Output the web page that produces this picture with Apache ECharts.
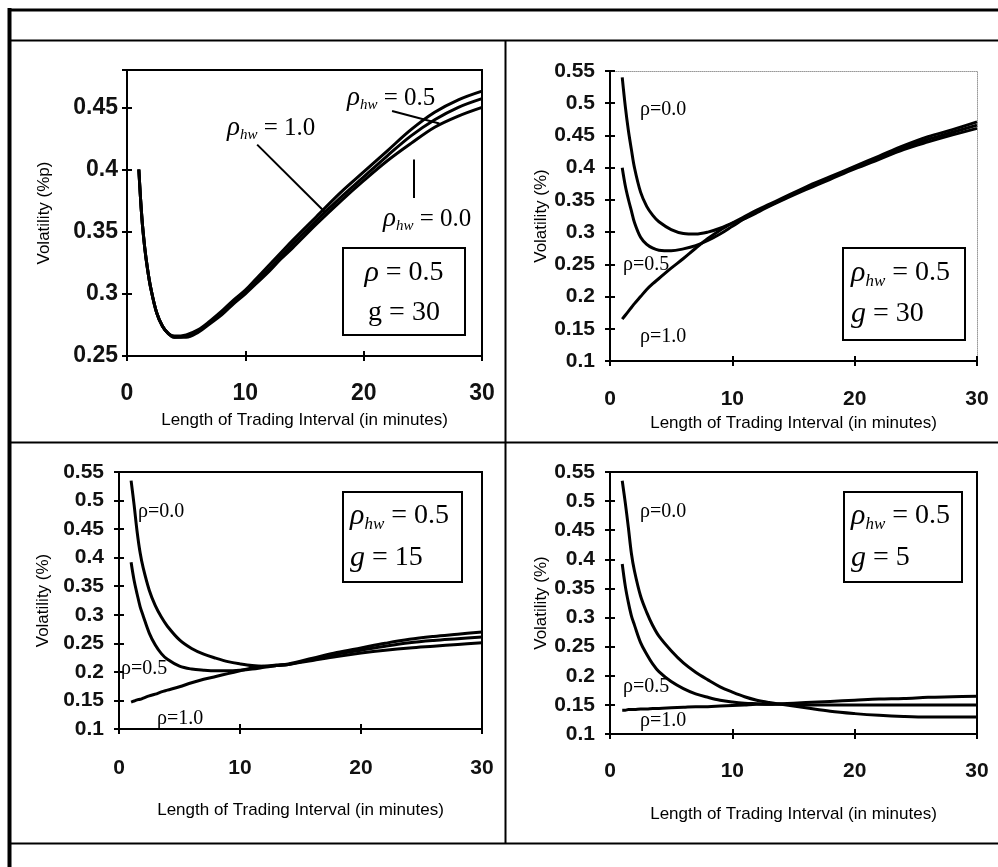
<!DOCTYPE html>
<html>
<head>
<meta charset="utf-8">
<script src="https://cdn.jsdelivr.net/npm/echarts@6/dist/echarts.min.js"></script>
<style>
html,body{margin:0;padding:0;background:#fff;}
#c{width:998px;height:867px;}
</style>
</head>
<body>
<div id="c"></div>
<script>
// ---------- data ----------
const X = [1,1.25,1.5,1.75,2,2.5,3,3.5,4,5,6,7,8,9,10,11,12,13,14,16,18,20,22,24,26,28,30];
const xTicks = [0,10,20,30];

// Panel 1: rho = 0.5, g = 30, varying rho_hw
const p1_rhw00 = [0.400,0.362,0.337,0.319,0.305,0.285,0.274,0.268,0.265,0.265,0.269,0.276,0.283,0.292,0.300,0.309,0.318,0.328,0.337,0.356,0.374,0.391,0.407,0.421,0.434,0.443,0.450];
const p1_rhw05 = [0.400,0.362,0.337,0.319,0.305,0.285,0.274,0.268,0.265,0.266,0.270,0.277,0.284,0.293,0.301,0.311,0.320,0.330,0.340,0.359,0.377,0.394,0.411,0.427,0.440,0.450,0.457];
const p1_rhw10 = [0.400,0.362,0.337,0.319,0.305,0.285,0.274,0.268,0.266,0.267,0.271,0.278,0.286,0.295,0.303,0.313,0.323,0.333,0.343,0.362,0.381,0.398,0.415,0.432,0.446,0.456,0.463];

// Panel 2: rho_hw = 0.5, g = 30
const p2_r00 = [0.540,0.495,0.458,0.428,0.400,0.362,0.340,0.326,0.316,0.304,0.298,0.297,0.300,0.306,0.314,0.321,0.330,0.340,0.349,0.366,0.382,0.398,0.413,0.428,0.440,0.451,0.461];
const p2_r05 = [0.400,0.372,0.351,0.333,0.315,0.292,0.281,0.275,0.272,0.271,0.274,0.279,0.287,0.297,0.309,0.321,0.332,0.341,0.350,0.368,0.384,0.400,0.415,0.431,0.444,0.455,0.466];
const p2_r10 = [0.165,0.171,0.177,0.183,0.189,0.200,0.211,0.220,0.228,0.244,0.259,0.275,0.290,0.303,0.314,0.324,0.334,0.343,0.352,0.370,0.386,0.402,0.418,0.434,0.448,0.459,0.471];

// Panel 3: rho_hw = 0.5, g = 15
const p3_r00 = [0.535,0.492,0.445,0.408,0.382,0.343,0.316,0.296,0.280,0.256,0.241,0.231,0.224,0.218,0.214,0.211,0.210,0.211,0.213,0.220,0.227,0.233,0.238,0.242,0.245,0.248,0.251];
const p3_r05 = [0.392,0.360,0.336,0.314,0.298,0.268,0.247,0.232,0.222,0.210,0.205,0.203,0.202,0.202,0.203,0.205,0.208,0.211,0.213,0.222,0.231,0.238,0.245,0.251,0.255,0.258,0.261];
const p3_r10 = [0.147,0.149,0.151,0.152,0.154,0.158,0.161,0.165,0.168,0.174,0.181,0.187,0.192,0.197,0.202,0.207,0.210,0.212,0.214,0.224,0.234,0.242,0.250,0.257,0.262,0.266,0.270];

// Panel 4: rho_hw = 0.5, g = 5
const p4_r00 = [0.535,0.497,0.455,0.410,0.380,0.337,0.309,0.286,0.268,0.243,0.222,0.206,0.193,0.181,0.172,0.164,0.158,0.154,0.151,0.145,0.139,0.135,0.132,0.130,0.129,0.129,0.129];
const p4_r05 = [0.392,0.354,0.326,0.303,0.287,0.257,0.237,0.220,0.207,0.190,0.178,0.169,0.163,0.158,0.155,0.153,0.152,0.151,0.151,0.150,0.150,0.150,0.150,0.150,0.150,0.150,0.150];
const p4_r10 = [0.141,0.141,0.142,0.142,0.142,0.143,0.143,0.144,0.144,0.145,0.146,0.147,0.147,0.148,0.149,0.150,0.151,0.151,0.152,0.154,0.156,0.158,0.160,0.161,0.163,0.164,0.165];

// pointer lines (panel 1), in data coordinates [x, y]
const p1_pointer10 = [[11.0,0.420],[16.7,0.366]];
const p1_pointer05 = [[22.4,0.447],[26.4,0.437]];
const p1_pointer00 = [[24.2,0.408],[24.2,0.377]];

const xName = 'Length of Trading Interval (in minutes)';

// ---------- layout ----------
const SANS = '"Liberation Sans", Arial, sans-serif';
const SERIF = '"Liberation Serif", "Times New Roman", serif';

const panels = [
  {grid:{left:127,top:70,width:355,height:286}, ymin:0.25, ymax:0.48, yname:'Volatility (%p)',
   tf:23, xLM:26, xNG:56, yLM:9, yNG:74, dotted:false,
   series:[p1_rhw00,p1_rhw05,p1_rhw10]},
  {grid:{left:610,top:71,width:367,height:290}, ymin:0.1, ymax:0.55, yname:'Volatility (%)',
   tf:21, xLM:28, xNG:54, yLM:15, yNG:54, dotted:true,
   series:[p2_r00,p2_r05,p2_r10]},
  {grid:{left:119,top:472,width:363,height:257}, ymin:0.1, ymax:0.55, yname:'Volatility (%)',
   tf:21, xLM:29, xNG:73, yLM:15, yNG:67, dotted:false,
   series:[p3_r00,p3_r05,p3_r10]},
  {grid:{left:610,top:472,width:367,height:262}, ymin:0.1, ymax:0.55, yname:'Volatility (%)',
   tf:21, xLM:27, xNG:72, yLM:15, yNG:54, dotted:false,
   series:[p4_r00,p4_r05,p4_r10]}
];

const grids = [], xAxes = [], yAxes = [], series = [];
const isMult = (v) => Math.abs(v/0.05 - Math.round(v/0.05)) < 1e-6;

panels.forEach((p, i) => {
  grids.push(Object.assign({
    show: !p.dotted, borderColor:'#000', borderWidth:2, backgroundColor:'transparent'
  }, p.grid));
  const xi = xAxes.length, yi = yAxes.length;
  xAxes.push({
    gridIndex:i, type:'value', min:0, max:30, interval:10, position:'bottom',
    axisLine:{show:true, onZero:false, lineStyle:{color:'#000', width:2}},
    axisTick:{show:true, length:5, lineStyle:{color:'#000', width:2}},
    axisLabel:{margin:p.xLM, fontSize:p.tf, fontWeight:'bold', color:'#111', fontFamily:SANS},
    splitLine:{show:false},
    name:xName, nameLocation:'middle', nameGap:p.xNG,
    nameTextStyle:{fontSize:17, color:'#000', fontFamily:SANS}
  });
  xAxes.push({
    gridIndex:i, type:'value', min:0, max:30, interval:10, position:'bottom',
    axisLine:{show:false, onZero:false}, axisTick:{show:true, inside:true, length:5, lineStyle:{color:'#000', width:2}},
    axisLabel:{show:false}, splitLine:{show:false}
  });
  yAxes.push({
    gridIndex:i, type:'value', min:p.ymin, max:p.ymax, interval:0.05, position:'left',
    axisLine:{show:true, onZero:false, lineStyle:{color:'#000', width:2}},
    axisTick:{show:true, length:5, lineStyle:{color:'#000', width:2}},
    axisLabel:{margin:p.yLM, fontSize:p.tf, fontWeight:'bold', color:'#111', fontFamily:SANS,
      formatter:(v)=> isMult(v) ? String(+v.toFixed(2)) : ''},
    splitLine:{show:false},
    name:p.yname, nameLocation:'middle', nameGap:p.yNG,
    nameTextStyle:{fontSize:17, color:'#000', fontFamily:SANS}
  });
  yAxes.push({
    gridIndex:i, type:'value', min:p.ymin, max:p.ymax, interval:0.05, position:'left',
    axisLine:{show:false, onZero:false}, axisTick:{show:true, inside:true, length:5, lineStyle:{color:'#000', width:2}},
    axisLabel:{show:false}, splitLine:{show:false}
  });
  if (p.dotted) {
    xAxes.push({gridIndex:i, type:'value', min:0, max:30, position:'top',
      axisLine:{show:true, onZero:false, lineStyle:{color:'#999', width:1, type:'dotted'}},
      axisTick:{show:false}, axisLabel:{show:false}, splitLine:{show:false}});
    yAxes.push({gridIndex:i, type:'value', min:p.ymin, max:p.ymax, position:'right',
      axisLine:{show:true, onZero:false, lineStyle:{color:'#999', width:1, type:'dotted'}},
      axisTick:{show:false}, axisLabel:{show:false}, splitLine:{show:false}});
  }
  p.series.forEach((ys, k) => {
    const s = {
      type:'line', xAxisIndex:xi, yAxisIndex:yi,
      data: X.map((x, j) => [x, ys[j]]),
      showSymbol:false, symbol:'none', smooth:0.35, silent:true,
      lineStyle:{color:'#000', width:3}, z:3
    };
    if (i === 0 && k === 1) {
      s.markLine = {
        silent:true, symbol:['none','none'], label:{show:false},
        lineStyle:{color:'#000', width:2, type:'solid'},
        data:[p1_pointer10, p1_pointer05, p1_pointer00].map(pt => [{coord:pt[0]},{coord:pt[1]}])
      };
    }
    series.push(s);
  });
});

// ---------- decorations ----------
const g = [];
function line(x1,y1,x2,y2,w){ g.push({type:'line', silent:true, shape:{x1,y1,x2,y2}, style:{stroke:'#000', lineWidth:w}}); }
function box(x,y,w,h){ g.push({type:'rect', silent:true, shape:{x,y,width:w,height:h}, style:{fill:'transparent', stroke:'#000', lineWidth:2}}); }
function txt(x,y,text,rich,align){ g.push({type:'text', silent:true, x, y, style:{text, rich, align:align||'left', verticalAlign:'middle', fill:'#000'}}); }

line(8,10,998,10,3);
line(9.5,8,9.5,867,4);
line(10,40.5,998,40.5,2);
line(10,442.5,998,442.5,2);
line(10,843.5,998,843.5,2);
line(505.5,40,505.5,843,2);

const bigRich = {
  r:{fontFamily:SERIF, fontStyle:'italic', fontSize:30, lineHeight:34, verticalAlign:'middle'},
  s:{fontFamily:SERIF, fontStyle:'italic', fontSize:17, lineHeight:34, verticalAlign:'bottom', padding:[10,0,0,0]},
  n:{fontFamily:SERIF, fontSize:28, lineHeight:34, verticalAlign:'middle'},
  gi:{fontFamily:SERIF, fontStyle:'italic', fontSize:30, lineHeight:34, verticalAlign:'middle'}
};
const midRich = {
  r:{fontFamily:SERIF, fontStyle:'italic', fontSize:27, lineHeight:30, verticalAlign:'middle'},
  s:{fontFamily:SERIF, fontStyle:'italic', fontSize:15, lineHeight:30, verticalAlign:'bottom', padding:[10,0,0,0]},
  n:{fontFamily:SERIF, fontSize:25, lineHeight:30, verticalAlign:'middle'}
};
const smallRich = { n:{fontFamily:SERIF, fontSize:20} };

// Panel 1 annotations
box(343,248,122,87);
txt(404,273,'{r|ρ}{n| = 0.5}',bigRich,'center');
txt(404,313,'{n|g = 30}',bigRich,'center');
txt(347,98,'{r|ρ}{s|hw}{n| = 0.5}',midRich);
txt(227,128,'{r|ρ}{s|hw}{n| = 1.0}',midRich);
txt(383,219,'{r|ρ}{s|hw}{n| = 0.0}',midRich);

// Panel 2
box(843,248,122,92);
txt(851,273,'{r|ρ}{s|hw}{n| = 0.5}',bigRich);
txt(851,314,'{gi|g}{n| = 30}',bigRich);
txt(640,110,'{n|ρ=0.0}',smallRich);
txt(623,265,'{n|ρ=0.5}',smallRich);
txt(640,337,'{n|ρ=1.0}',smallRich);

// Panel 3
box(343,492,119,90);
txt(350,516,'{r|ρ}{s|hw}{n| = 0.5}',bigRich);
txt(350,558,'{gi|g}{n| = 15}',bigRich);
txt(138,512,'{n|ρ=0.0}',smallRich);
txt(121,669,'{n|ρ=0.5}',smallRich);
txt(157,719,'{n|ρ=1.0}',smallRich);

// Panel 4
box(844,492,118,90);
txt(851,516,'{r|ρ}{s|hw}{n| = 0.5}',bigRich);
txt(851,558,'{gi|g}{n| = 5}',bigRich);
txt(640,512,'{n|ρ=0.0}',smallRich);
txt(623,687,'{n|ρ=0.5}',smallRich);
txt(640,721,'{n|ρ=1.0}',smallRich);

const chart = echarts.init(document.getElementById('c'), null, {renderer:'canvas'});
chart.setOption({
  animation:false,
  backgroundColor:'#fff',
  grid:grids, xAxis:xAxes, yAxis:yAxes, series,
  graphic:{elements:g}
});
</script>
</body>
</html>
